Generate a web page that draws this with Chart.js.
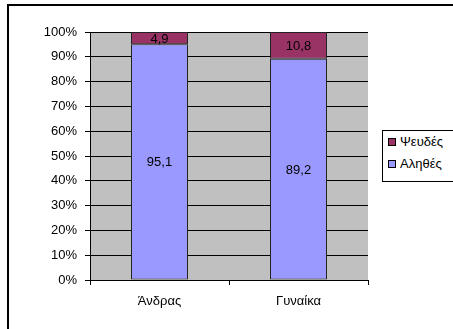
<!DOCTYPE html>
<html>
<head>
<meta charset="utf-8">
<script src="https://cdn.jsdelivr.net/npm/chart.js@4"></script>
<style>
    body { margin: 0; background: #fff; }
    #wrap { position: relative; width: 453px; height: 329px; overflow: hidden; }
    #frame { position: absolute; left: 7px; top: 4px; width: 460px; height: 340px;
             border-top: 2px solid #000; border-left: 2px solid #000; pointer-events: none; }
    #legend { position: absolute; left: 382px; top: 130px; width: 80px; height: 50px;
              border: 1px solid #000; background: #fff; font: 13px Arial, "Liberation Sans", sans-serif; }
    #legend div { position: absolute; left: 5px; height: 16px; line-height: 16px; white-space: nowrap; }
    #legend span { display: inline-block; width: 6px; height: 6px; border: 1px solid #000;
                   margin-right: 4px; vertical-align: 0px; }
</style>
</head>
<body>
<div id="wrap">
    <canvas id="chart" width="453" height="329"></canvas>
    <div id="frame"></div>
    <div id="legend"></div>
</div>
<script>
// Data
const categories = ['Άνδρας', 'Γυναίκα'];
const trueValues = [95.1, 89.2];   // Αληθές
const falseValues = [4.9, 10.8];   // Ψευδές
const seriesLabels = ['Αληθές', 'Ψευδές'];
const seriesColors = ['#9999ff', '#993366'];
const yTicks = [0, 10, 20, 30, 40, 50, 60, 70, 80, 90, 100];

const FONT = 'Arial, "Liberation Sans", sans-serif';

// grey plot background
const plotBg = {
    id: 'plotBg',
    beforeDraw(chart) {
        const a = chart.chartArea;
        const ctx = chart.ctx;
        ctx.save();
        ctx.fillStyle = '#c0c0c0';
        ctx.fillRect(a.left, a.top, a.right - a.left, a.bottom - a.top);
        ctx.restore();
    }
};

// value labels in the middle of each segment
const valueLabels = {
    id: 'valueLabels',
    afterDatasetsDraw(chart) {
        const ctx = chart.ctx;
        ctx.save();
        ctx.font = '13px ' + FONT;
        ctx.fillStyle = '#000';
        ctx.textAlign = 'center';
        ctx.textBaseline = 'middle';
        chart.data.datasets.forEach((ds, i) => {
            chart.getDatasetMeta(i).data.forEach((bar, j) => {
                const text = ds.data[j].toFixed(1).replace('.', ',');
                ctx.fillText(text, bar.x, (bar.y + bar.base) / 2 + 1);
            });
        });
        ctx.restore();
    }
};

new Chart(document.getElementById('chart'), {
    type: 'bar',
    data: {
        labels: categories,
        datasets: [
            { label: seriesLabels[0], data: trueValues, backgroundColor: seriesColors[0] },
            { label: seriesLabels[1], data: falseValues, backgroundColor: seriesColors[1] }
        ]
    },
    options: {
        responsive: false,
        animation: false,
        layout: { padding: { top: 32, right: 85, left: 0, bottom: 0 } },
        datasets: {
            bar: {
                categoryPercentage: 1,
                barPercentage: 0.41,
                borderColor: '#222',
                borderWidth: 1,
                borderSkipped: false
            }
        },
        plugins: {
            legend: { display: false },
            tooltip: { enabled: false }
        },
        scales: {
            x: {
                stacked: true,
                grid: { offset: true, drawOnChartArea: false, color: '#000', tickLength: 5 },
                border: { color: '#000' },
                ticks: { color: '#000', font: { family: FONT, size: 13 }, padding: 9 },
                afterFit(scale) { scale.height = 49; }
            },
            y: {
                stacked: true,
                min: 0,
                max: 100,
                afterBuildTicks(scale) { scale.ticks = yTicks.map(v => ({ value: v })); },
                grid: { color: '#000', tickLength: 5 },
                border: { color: '#000' },
                ticks: {
                    color: '#000',
                    font: { family: FONT, size: 13 },
                    padding: 8,
                    callback: v => v + '%'
                },
                afterFit(scale) { scale.width = 90; }
            }
        }
    },
    plugins: [plotBg, valueLabels]
});

// legend, reversed order like the original
const legend = document.getElementById('legend');
[1, 0].forEach((i, row) => {
    const item = document.createElement('div');
    item.style.top = (row === 0 ? 3 : 25) + 'px';
    item.innerHTML = '<span style="background:' + seriesColors[i] + '"></span>' + seriesLabels[i];
    legend.appendChild(item);
});
</script>
</body>
</html>
